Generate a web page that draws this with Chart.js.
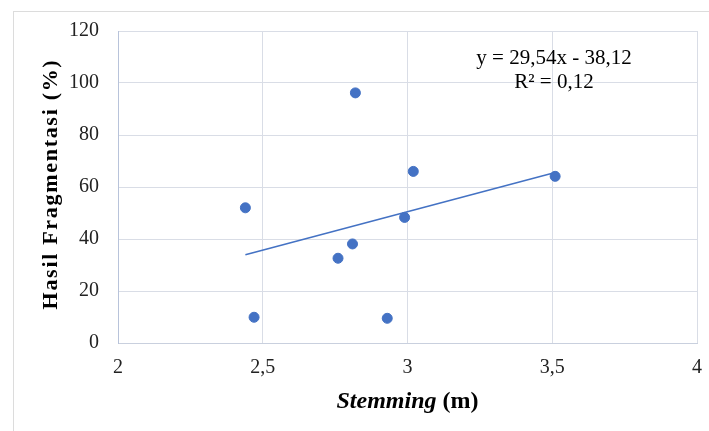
<!DOCTYPE html>
<html>
<head>
<meta charset="utf-8">
<script src="https://cdn.jsdelivr.net/npm/chart.js@4.4.1/dist/chart.umd.min.js"></script>
<style>
  body { margin: 0; background: #fff; }
  #wrap { width: 709px; height: 431px; position: relative; }
</style>
</head>
<body>
<div id="wrap"><canvas id="stemChart"></canvas></div>
<script>
// stemming (m) vs hasil fragmentasi (%)
var stemming = [2.44, 2.47, 2.82, 2.76, 2.81, 2.99, 2.93, 3.02, 3.51]
var fragmentasi = [52.0, 9.9, 96.2, 32.6, 38.1, 48.3, 9.5, 66.0, 64.1]
var xTickLabels = ['2', '2,5', '3', '3,5', '4']
var yTickLabels = ['0', '20', '40', '60', '80', '100', '120']
// trendline from the equation shown on the chart
var slope = 29.54
var intercept = -38.12
var eqLines = ['y = 29,54x - 38,12', 'R² = 0,12']

var points = stemming.map(function (x, i) { return { x: x, y: fragmentasi[i] } })
var xMin = Math.min.apply(null, stemming)
var xMax = Math.max.apply(null, stemming)
var trend = [
    { x: xMin, y: slope * xMin + intercept },
    { x: xMax, y: slope * xMax + intercept }
]

var blue = '#4472c4'
var gridColor = '#d9dde6'
var serif = "'Liberation Serif', 'Times New Roman', serif"

var extras = {
    id: 'extras',
    beforeDraw: function (chart) {
        var c = chart.ctx
        c.save()
        c.fillStyle = '#fff'
        c.fillRect(0, 0, chart.width, chart.height)
        c.strokeStyle = '#dcdcdc'
        c.lineWidth = 1
        c.strokeRect(13.5, 11.5, 720, 440)
        c.restore()
    },
    afterDraw: function (chart) {
        var c = chart.ctx
        var area = chart.chartArea
        c.save()
        c.fillStyle = '#000'
        c.textBaseline = 'middle'
        // x axis title: italic "Stemming" + " (m)"
        var a = 'Stemming', b = ' (m)'
        c.font = "italic bold 24px " + serif
        var wa = c.measureText(a).width
        c.font = "bold 24px " + serif
        var wb = c.measureText(b).width
        var cx = (area.left + area.right) / 2
        var x0 = cx - (wa + wb) / 2
        c.textAlign = 'left'
        c.font = "italic bold 24px " + serif
        c.fillText(a, x0, 402)
        c.font = "bold 24px " + serif
        c.fillText(b, x0 + wa, 402)
        // y axis title, a little letter spaced
        c.save()
        c.translate(51, (area.top + area.bottom) / 2 - 3)
        c.rotate(-Math.PI / 2)
        c.font = "bold 22px " + serif
        c.letterSpacing = '1.7px'
        c.textAlign = 'center'
        c.fillText('Hasil Fragmentasi (%)', 0, 0)
        c.restore()
        // regression label
        c.font = "21px " + serif
        c.textAlign = 'center'
        c.fillText(eqLines[0], 554, 58)
        c.fillText(eqLines[1], 554, 82)
        c.restore()
    }
}

var ctx = document.getElementById('stemChart').getContext('2d')
var stemChart = new Chart(ctx,
    {
        type: 'scatter',
        data: {
            datasets: [{
                label: 'Data',
                data: points,
                backgroundColor: blue,
                borderColor: blue,
                pointRadius: 5,
                pointHoverRadius: 5
            }, {
                label: 'Linear',
                type: 'line',
                data: trend,
                borderColor: blue,
                borderWidth: 1.5,
                pointRadius: 0,
                fill: false
            }]
        },
        options: {
            responsive: true,
            maintainAspectRatio: false,
            animation: false,
            layout: { padding: { top: 31, right: 12, left: 0, bottom: 0 } },
            plugins: {
                legend: { display: false },
                tooltip: { enabled: false }
            },
            scales: {
                x: {
                    type: 'linear',
                    min: 2,
                    max: 4,
                    afterFit: function (s) {
                        s.height = 88
                        s.paddingLeft = 0
                        s.paddingRight = 0
                    },
                    ticks: {
                        stepSize: 0.5,
                        padding: 13,
                        color: '#222',
                        font: { family: serif, size: 20 },
                        callback: function (v, i) { return xTickLabels[i] }
                    },
                    grid: { color: gridColor, drawTicks: false },
                    border: { color: '#c9d0de' }
                },
                y: {
                    min: 0,
                    max: 120,
                    afterFit: function (s) { s.width = 118 },
                    ticks: {
                        stepSize: 20,
                        padding: 19,
                        color: '#222',
                        font: { family: serif, size: 20 },
                        callback: function (v, i) { return yTickLabels[i] }
                    },
                    grid: { color: gridColor, drawTicks: false },
                    border: { color: '#b8c3da' }
                }
            }
        },
        plugins: [extras]
    });
</script>
</body>
</html>
